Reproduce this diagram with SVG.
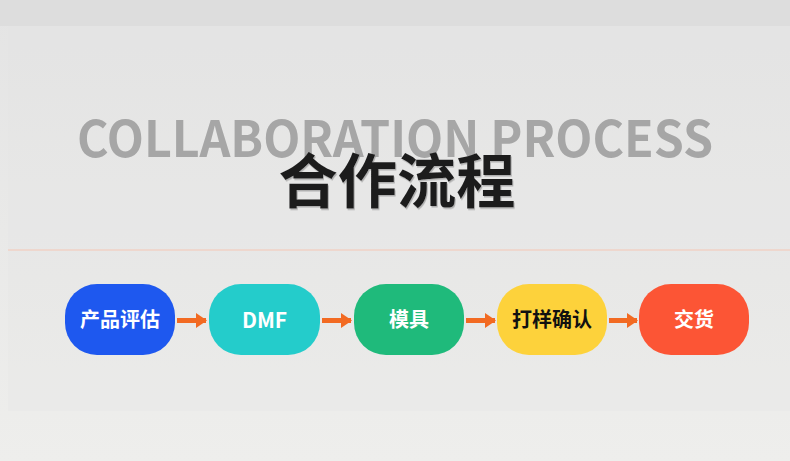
<svg xmlns="http://www.w3.org/2000/svg" width="790" height="461" viewBox="0 0 790 461">
<defs>
<linearGradient id="bg" x1="0" y1="0" x2="0" y2="1">
<stop offset="0" stop-color="#e4e4e4"/>
<stop offset="1" stop-color="#eeeeec"/>
</linearGradient>
<filter id="sh" x="-5%" y="-10%" width="110%" height="130%">
<feDropShadow dx="1" dy="1.5" stdDeviation="0.6" flood-color="#8a8a8a" flood-opacity="0.6"/>
</filter>
<marker id="ah" markerWidth="11" markerHeight="15" refX="10" refY="7.5" orient="auto" markerUnits="userSpaceOnUse">
<path d="M0,0 L11,7.5 L0,15 Z" fill="#f26a22"/>
</marker>
<style>
.en{font-family:"Noto Sans CJK SC","Noto Sans",sans-serif;font-weight:bold;font-size:50px;fill:#a6a6a6}
.zh{font-family:"Noto Sans CJK SC",sans-serif;font-weight:bold;font-size:59px;fill:#1c1c1c}
.lbl{font-family:"Noto Sans CJK SC","Noto Sans",sans-serif;font-weight:bold;font-size:20px;text-anchor:middle}
.w{fill:#ffffff}
.k{fill:#111111}
.arr{stroke:#f26a22;stroke-width:5;fill:none}
</style>
</defs>
<rect x="0" y="0" width="790" height="461" fill="url(#bg)"/>
<rect x="0" y="0" width="790" height="26" fill="#dddddd"/>
<rect x="8" y="26" width="782" height="385" fill="#e5e5e5" opacity="0.25"/>
<text class="en" x="77" y="157" textLength="636" lengthAdjust="spacingAndGlyphs">COLLABORATION PROCESS</text>
<text class="zh" x="397" y="203" text-anchor="middle" textLength="237" lengthAdjust="spacingAndGlyphs" filter="url(#sh)">合作流程</text>
<line x1="8" y1="250" x2="790" y2="250" stroke="#f0d2c6" stroke-width="1.5"/>
<g id="connectors">
<line class="arr" x1="177" y1="320.5" x2="206" y2="320.5" marker-end="url(#ah)"/>
<line class="arr" x1="322" y1="320.5" x2="351" y2="320.5" marker-end="url(#ah)"/>
<line class="arr" x1="466" y1="320.5" x2="495" y2="320.5" marker-end="url(#ah)"/>
<line class="arr" x1="609" y1="320.5" x2="637" y2="320.5" marker-end="url(#ah)"/>
</g>
<g id="n1">
<rect x="65" y="284" width="110" height="71" rx="32" fill="#1e58ef"/>
<text class="lbl w" x="120" y="327">产品评估</text>
</g>
<g id="n2">
<rect x="209" y="284" width="111" height="71" rx="32" fill="#24cccb"/>
<text class="lbl w" x="264.5" y="328" style="font-size:21px">DMF</text>
</g>
<g id="n3">
<rect x="354" y="284" width="110" height="71" rx="32" fill="#1fba7b"/>
<text class="lbl w" x="409" y="327">模具</text>
</g>
<g id="n4">
<rect x="497" y="284" width="110" height="71" rx="32" fill="#fdd23b"/>
<text class="lbl k" x="552" y="327">打样确认</text>
</g>
<g id="n5">
<rect x="639" y="284" width="110" height="71" rx="32" fill="#fc5535"/>
<text class="lbl w" x="694" y="327">交货</text>
</g>
</svg>
